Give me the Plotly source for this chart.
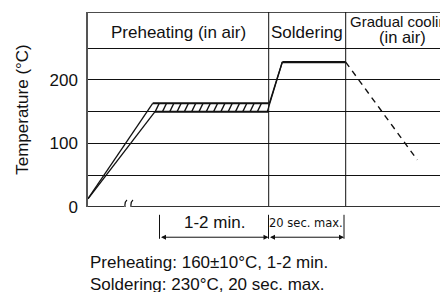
import plotly.graph_objects as go

# ---- data (x in time units along the profile, y in °C) ----
ramp_upper_x = [0, 64.7]
ramp_upper_y = [13, 163]
ramp_lower_x = [0, 67]
ramp_lower_y = [13, 150]
band_x = [64.7, 180.7]
band_top = 163
band_bottom = 150
rise_lower_x = [179.3, 194.3]
rise_lower_y = [150, 228]
rise_upper_x = [181.3, 194.3]
rise_upper_y = [163, 228]
peak_x = [194.3, 257.7]
peak_y = [228, 228]
cool_x = [257.7, 329.3]
cool_y = [228, 74]
zone_bounds = [0, 180.7, 257.7, 360]
zone_labels = ["Preheating (in air)", "Soldering", "Gradual cooling", "(in air)"]
grid_vals = [0, 50, 100, 150, 200, 250]
tick_text = ["0", "", "100", "", "200", ""]
y_top = 306.7

FONT = "Liberation Sans, Arial, sans-serif"
BLACK = "#111111"
FS = 17

fig = go.Figure()

def seg(x, y, w=1.3, dash=None):
    fig.add_trace(go.Scatter(x=x, y=y, mode="lines", hoverinfo="skip",
                             line=dict(color=BLACK, width=w, dash=dash),
                             showlegend=False, cliponaxis=False))

seg(ramp_upper_x, ramp_upper_y)
seg(ramp_lower_x, ramp_lower_y)
seg(band_x, [band_top, band_top], w=2)
seg([ramp_lower_x[1], band_x[1]], [band_bottom, band_bottom], w=2)
# hatch
hx, hy = [], []
x = band_x[0] + 2.5
while x + 4 <= band_x[1]:
    hx += [x, x + 4, None]
    hy += [band_bottom, band_top, None]
    x += 7.3
fig.add_trace(go.Scatter(x=hx, y=hy, mode="lines", hoverinfo="skip",
                         line=dict(color=BLACK, width=1.3), showlegend=False))
seg(rise_lower_x, rise_lower_y)
seg(rise_upper_x, rise_upper_y)
seg(peak_x, peak_y, w=2.2)
seg(cool_x, cool_y, w=1.4, dash="6px,5px")

shapes = []
# top border
shapes.append(dict(type="line", xref="x", yref="y", x0=0, x1=360, y0=y_top, y1=y_top,
                   line=dict(color=BLACK, width=1.5)))
# zone dividers
for xv in zone_bounds[1:3]:
    shapes.append(dict(type="line", xref="x", yref="y", x0=xv, x1=xv, y0=0, y1=y_top,
                       line=dict(color=BLACK, width=1)))
# baseline with break
shapes.append(dict(type="line", xref="x", yref="y", x0=0, x1=36, y0=0, y1=0,
                   line=dict(color="#333333", width=2)))
shapes.append(dict(type="line", xref="x", yref="y", x0=43.5, x1=360, y0=0, y1=0,
                   line=dict(color="#333333", width=2)))
# break squiggles
for bx in [37, 43]:
    t, b = 11, -9
    path = f"M {bx+2},{t} C {bx-3},{t-6} {bx+3},{b+6} {bx-2},{b}"
    shapes.append(dict(type="path", xref="x", yref="y", path=path,
                       line=dict(color=BLACK, width=1.2)))
# dimension ticks
for xv in [71.5, 180.5, 256]:
    shapes.append(dict(type="line", xref="x", yref="paper", x0=xv, x1=xv,
                       y0=-0.04, y1=-0.163, line=dict(color=BLACK, width=1)))

annotations = []
ya = -0.155
for (x0, x1) in [(71.5, 180.5), (180.5, 256)]:
    annotations.append(dict(x=x1, y=ya, xref="x", yref="paper", ax=x0, ay=0,
                            axref="x", ayref="pixel", text="", showarrow=True,
                            yanchor="middle",
                            arrowhead=2, arrowsize=1, arrowwidth=1, arrowside="end+start",
                            arrowcolor=BLACK, startarrowhead=2, startarrowsize=1))
annotations.append(dict(x=126, y=-0.081, xref="x", yref="paper", text="1-2 min.",
                        yanchor="middle",
                        showarrow=False, font=dict(family=FONT, size=FS, color=BLACK)))
annotations.append(dict(x=218, y=-0.081, xref="x", yref="paper", text="20 sec. max.",
                        yanchor="middle", showarrow=False,
                        font=dict(family="DejaVu Sans Condensed, Liberation Sans, sans-serif",
                                  size=12.8, color=BLACK)))
# zone headers
annotations.append(dict(x=(zone_bounds[0] + zone_bounds[1]) / 2, y=274, xref="x", yref="y",
                        text=zone_labels[0], showarrow=False, yanchor="middle",
                        font=dict(family=FONT, size=FS, color=BLACK)))
annotations.append(dict(x=(zone_bounds[1] + zone_bounds[2]) / 2, y=274, xref="x", yref="y",
                        text=zone_labels[1], showarrow=False, yanchor="middle",
                        font=dict(family=FONT, size=FS, color=BLACK)))
annotations.append(dict(x=259.5, y=291.5, xref="x", yref="y", xanchor="left",
                        text=zone_labels[2], showarrow=False, yanchor="middle",
                        font=dict(family=FONT, size=15, color=BLACK)))
annotations.append(dict(x=314, y=267.5, xref="x", yref="y",
                        text=zone_labels[3], showarrow=False, yanchor="middle",
                        font=dict(family=FONT, size=16.5, color=BLACK)))
# notes
annotations.append(dict(x=0, y=-0.285, xref="x", yref="paper", xanchor="left",
                        yanchor="middle",
                        text="Preheating: 160±10°C, 1-2 min.", showarrow=False,
                        font=dict(family=FONT, size=FS, color=BLACK)))
annotations.append(dict(x=0, y=-0.396, xref="x", yref="paper", xanchor="left",
                        yanchor="middle",
                        text="Soldering: 230°C, 20 sec. max.", showarrow=False,
                        font=dict(family=FONT, size=FS, color=BLACK)))

fig.update_layout(
    width=440, height=284,
    margin=dict(l=80, r=0, t=4, b=84.7),
    paper_bgcolor="white", plot_bgcolor="white",
    shapes=shapes, annotations=annotations,
    xaxis=dict(range=[0, 360], visible=False, fixedrange=True),
    yaxis=dict(range=[0, y_top], tickvals=grid_vals, ticktext=tick_text,
               showgrid=True, gridcolor=BLACK, gridwidth=1, zeroline=False,
               showline=True, linecolor="#555555", linewidth=1.5, ticks="",
               ticklabelstandoff=5, automargin=False,
               tickfont=dict(family=FONT, size=FS, color=BLACK),
               title=dict(text="Temperature (°C)", standoff=17,
                          font=dict(family=FONT, size=FS, color=BLACK))),
    font=dict(family=FONT, size=FS, color=BLACK),
)

fig.write_html("out.html")
